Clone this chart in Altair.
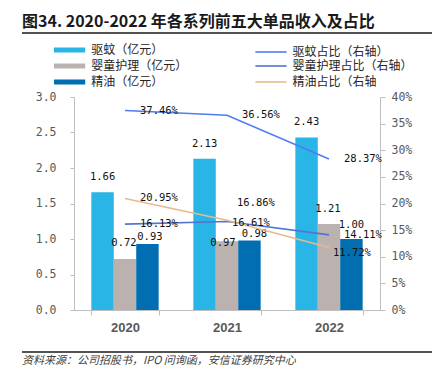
import altair as alt
import pandas as pd

years = ["2020", "2021", "2022"]
bar_series = ["驱蚊（亿元）", "婴童护理（亿元）", "精油（亿元）"]
line_series = ["驱蚊占比（右轴）", "婴童护理占比（右轴）", "精油占比（右轴"]
legend_order = [bar_series[0], bar_series[1], bar_series[2],
                line_series[0], line_series[1], line_series[2]]

quwen = [1.66, 2.13, 2.43]
yingtong = [0.72, 0.97, 1.21]
jingyou = [0.93, 0.98, 1.00]
quwen_pct = [37.46, 36.56, 28.37]
yingtong_pct = [16.13, 16.61, 14.11]
jingyou_pct = [20.95, 16.86, 11.72]

left_ticks = [0.0, 0.5, 1.0, 1.5, 2.0, 2.5, 3.0]
right_ticks = [0, 5, 10, 15, 20, 25, 30, 35, 40]

title_text = "图34. 2020-2022 年各系列前五大单品收入及占比"
source_text = "资料来源：公司招股书，IPO 问询函，安信证券研究中心"

colors = ["#29B5E6", "#BBB2B0", "#006EB0", "#4F7CF0", "#5573D1", "#E8B98C"]

bar_rows = []
for vals, s in zip([quwen, yingtong, jingyou], bar_series):
    for y, v in zip(years, vals):
        bar_rows.append({"year": y, "series": s, "value": v})
bars_df = pd.DataFrame(bar_rows)

line_rows = []
for vals, s in zip([quwen_pct, yingtong_pct, jingyou_pct], line_series):
    for y, v in zip(years, vals):
        line_rows.append({"year": y, "series": s, "pct": v})
lines_df = pd.DataFrame(line_rows)

CJK = "Noto Sans CJK SC"
MONO = "DejaVu Sans Mono"

bar_names_js = "[" + ",".join("'" + s + "'" for s in bar_series) + "]"
legend = alt.Legend(
    title=None, orient="none", legendX=-10.4, legendY=-53, columns=2,
    symbolType="M-5.2,0H5.2", symbolSize=36,
    symbolStrokeColor={"expr": "scale('color', datum.value)"},
    symbolStrokeWidth={"expr": "indexof(" + bar_names_js + ", datum.value) >= 0 ? 5 : 1.6"},
    symbolFillColor="transparent",
    labelFont=CJK, labelFontSize=12, labelColor="#262626",
    columnPadding=64.4, rowPadding=-8, labelOffset=15.6, labelLimit=300,
)
color_scale = alt.Scale(domain=legend_order, range=colors)

x_enc = alt.X("year:N", scale=alt.Scale(domain=years, paddingInner=0.34, paddingOuter=0.17),
              axis=alt.Axis(title=None, labelAngle=0, tickBand="extent", labelFont="Liberation Sans",
                            labelFontSize=13, labelFontWeight="bold", labelColor="#595959",
                            labelPadding=6, tickSize=5, domainColor="#BFBFBF", tickColor="#BFBFBF"))
xoff = alt.XOffset("series:N", scale=alt.Scale(domain=bar_series, paddingInner=0, paddingOuter=0))

y_left = alt.Y("value:Q", scale=alt.Scale(domain=[0, 3]),
               axis=alt.Axis(title=None, values=left_ticks, format=".1f", labelFont=MONO,
                             labelFontSize=11.5, labelColor="#595959", tickSize=4, labelPadding=14,
                             domainColor="#BFBFBF", tickColor="#BFBFBF", grid=False))
y_right = alt.Y("pct:Q", scale=alt.Scale(domain=[0, 40]),
                axis=alt.Axis(title=None, orient="right", values=right_ticks,
                              labelExpr="datum.value + '%'", labelFont=MONO, labelFontSize=11.5,
                              labelColor="#595959", tickSize=5, labelPadding=6,
                              domainColor="#BFBFBF", tickColor="#BFBFBF", grid=False))

bars = alt.Chart(bars_df).mark_bar().encode(
    x=x_enc, xOffset=xoff, y=y_left,
    color=alt.Color("series:N", scale=color_scale, legend=legend),
)


def bar_label(expr, dx, dy):
    return alt.Chart(bars_df).transform_filter(expr).transform_calculate(
        lab="format(datum.value, '.2f')"
    ).mark_text(
        font=MONO, fontSize=10.5, color="#111111", baseline="middle", dx=dx, dy=dy
    ).encode(x=x_enc, xOffset=xoff, y=y_left, text="lab:N")


s0, s1, s2 = bar_series
left = alt.layer(
    bars,
    bar_label(f"datum.series == '{s0}'", 0, -15),
    bar_label(f"datum.series == '{s1}' && datum.year != '2021'", -1, -15.5),
    bar_label(f"datum.series == '{s1}' && datum.year == '2021'", -4, 2),
    bar_label(f"datum.series == '{s2}' && datum.year == '2020'", 2.5, -7),
    bar_label(f"datum.series == '{s2}' && datum.year == '2021'", 5, -6),
    bar_label(f"datum.series == '{s2}' && datum.year == '2022'", 0, -14),
)

lines = alt.Chart(lines_df).mark_line(strokeWidth=1.6).encode(
    x=x_enc, y=y_right,
    color=alt.Color("series:N", scale=color_scale, legend=legend),
)


def pct_label(expr, dx, dy):
    return alt.Chart(lines_df).transform_filter(expr).transform_calculate(
        lab="format(datum.pct, '.2f') + '%'"
    ).mark_text(font=MONO, fontSize=10.5, color="#111111", align="left", baseline="middle",
                dx=dx, dy=dy).encode(x=x_enc, y=y_right, text="lab:N")


special = "(datum.pct == 16.61 || datum.pct == 16.86 || datum.pct == 11.72)"
right = alt.layer(
    lines,
    pct_label("!" + special, 15, 0),
    pct_label("datum.pct == 16.61", 5, 1),
    pct_label("datum.pct == 16.86", 10, -17),
    pct_label("datum.pct == 11.72", 4, 5),
)

one = pd.DataFrame({"t": [title_text], "s": [source_text]})
title = alt.Chart(one).mark_text(font=CJK, fontSize=16, fontWeight="bold", align="left",
                                 baseline="middle", color="#1a1a1a").encode(
    x=alt.value(-52), y=alt.value(-75), text="t:N")
source = alt.Chart(one).mark_text(font=CJK, fontSize=11, fontStyle="italic", align="left",
                                  baseline="middle", color="#404040").encode(
    x=alt.value(-52), y=alt.value(264), text="s:N")
rule_top = alt.Chart(one).mark_rule(color="#1a1a1a", strokeWidth=1.5).encode(
    x=alt.value(-52), x2=alt.value(361), y=alt.value(-64))
rule_bot = alt.Chart(one).mark_rule(color="#1a1a1a", strokeWidth=1.5).encode(
    x=alt.value(-52), x2=alt.value(361), y=alt.value(255))

chart = alt.layer(left, right, title, source, rule_top, rule_bot).resolve_scale(
    y="independent"
).properties(
    width=306, height=213,
    autosize=alt.AutoSizeParams(type="none"),
    padding={"left": 66, "top": 89, "right": 52, "bottom": 68},
).configure_view(stroke=None)

chart.save("out.html", embed_options={"renderer": "svg", "actions": False})
